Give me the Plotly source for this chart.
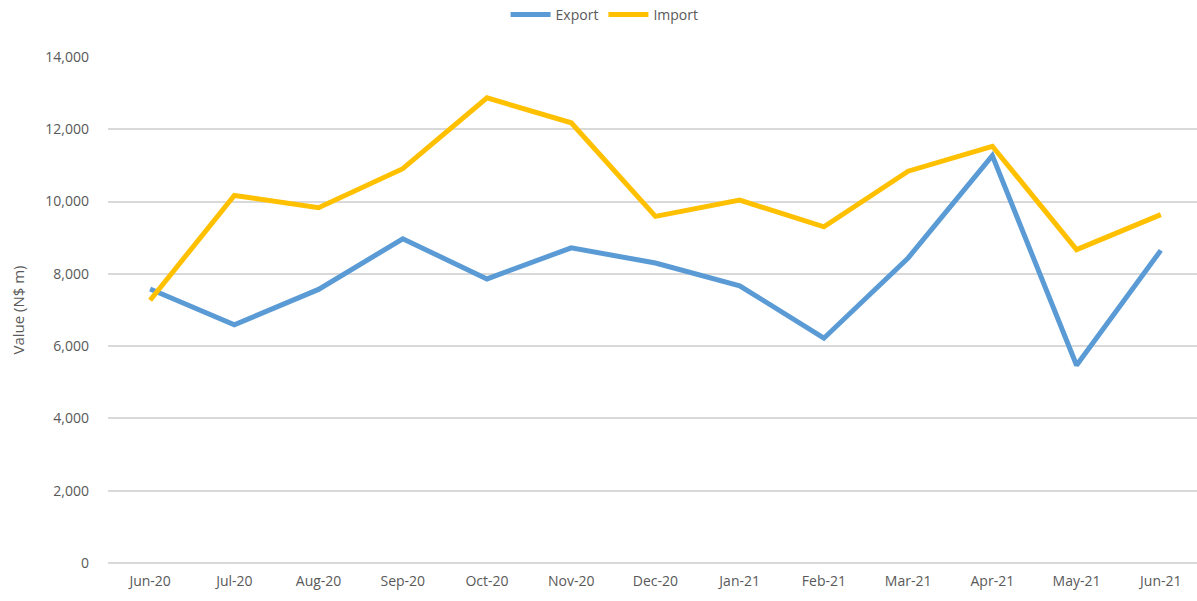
import plotly.graph_objects as go

months = ["Jun-20", "Jul-20", "Aug-20", "Sep-20", "Oct-20", "Nov-20", "Dec-20",
          "Jan-21", "Feb-21", "Mar-21", "Apr-21", "May-21", "Jun-21"]
export_vals = [7580, 6590, 7570, 8970, 7860, 8720, 8300, 7670, 6220, 8440, 11270, 5470, 8650]
import_vals = [7270, 10170, 9830, 10910, 12870, 12180, 9590, 10040, 9300, 10840, 11530, 8670, 9640]
y_ticks = [0, 2000, 4000, 6000, 8000, 10000, 12000, 14000]

font_family = "Open Sans, Liberation Sans, sans-serif"
text_grey = "#595959"

fig = go.Figure()
fig.add_trace(go.Scatter(
    x=months, y=export_vals, name="Export", mode="lines",
    line=dict(color="#5B9BD5", width=5)
))
fig.add_trace(go.Scatter(
    x=months, y=import_vals, name="Import", mode="lines",
    line=dict(color="#FFC000", width=5)
))

fig.update_layout(
    width=1197,
    height=601,
    margin=dict(l=108, r=0, t=57, b=38, autoexpand=False),
    plot_bgcolor="white",
    paper_bgcolor="white",
    font=dict(family=font_family, size=14, color=text_grey),
    legend=dict(
        orientation="h", x=0.456, xanchor="center", y=1.083, yanchor="middle",
        font=dict(size=14, color=text_grey), itemwidth=40, tracegroupgap=0
    ),
    xaxis=dict(
        type="category",
        range=[-0.5, 12.43],
        showgrid=False,
        showline=False,
        ticks="",
        ticklabelstandoff=8,
        tickfont=dict(size=14, color=text_grey),
    ),
    yaxis=dict(
        range=[0, 14000],
        tickvals=y_ticks,
        tickformat=",",
        gridcolor="#D9D9D9",
        gridwidth=1.5,
        zeroline=True,
        zerolinecolor="#D9D9D9",
        zerolinewidth=1.5,
        ticks="",
        ticklabelstandoff=18,
        tickfont=dict(size=14, color=text_grey),
        title=dict(text="Value (N$ m)", font=dict(size=15, color=text_grey), standoff=17),
    ),
)

# drop the default 8px page margin so the figure sits at the window's corner
fig.write_html("out.html", config={"displayModeBar": False},
               post_script="document.body.style.margin='0';")
